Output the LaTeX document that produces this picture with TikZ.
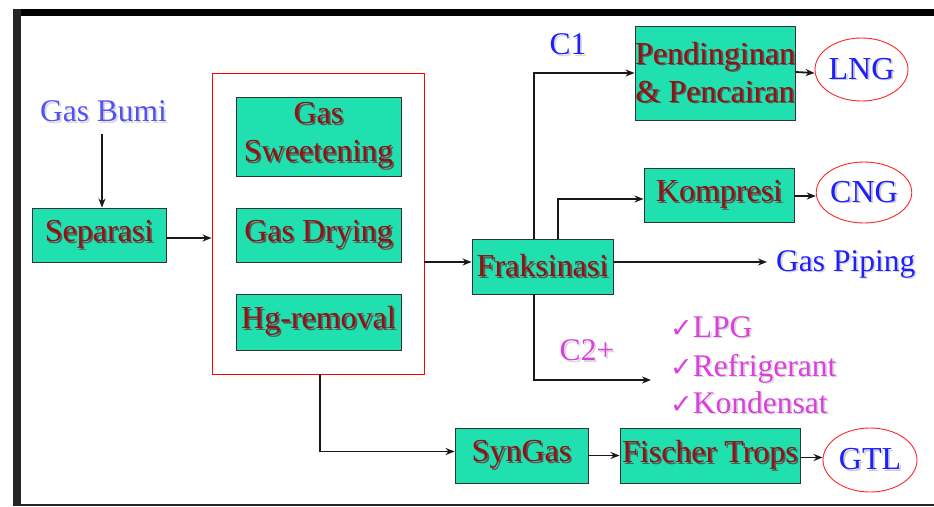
\documentclass[tikz,border=0pt]{standalone}
\usepackage{fontspec}
\setmainfont{Liberation Serif}
\newfontfamily\symfont{DejaVu Sans}
\usetikzlibrary{arrows.meta,shapes.geometric,calc}

\definecolor{boxgreen}{HTML}{1FE0AE}
\definecolor{boxtext}{HTML}{8E1414}
\definecolor{lblue}{HTML}{1E1EFF}
\definecolor{softblue}{HTML}{5252F4}
\definecolor{pinkish}{HTML}{DE3EDE}
\definecolor{framegray}{HTML}{262626}

% text with a drop shadow
\newcommand\shd[2][black!65]{\leavevmode\rlap{\hspace{1.8pt}\raisebox{-1.8pt}{\color{#1}#2}}#2}
\newcommand\tick{{\symfont\fontsize{27}{30}\selectfont ✓}}

\tikzset{
  procbox/.style={draw=black!80, line width=0.9pt, fill=boxgreen, text=boxtext,
    inner sep=0pt, align=center, font=\fontsize{32}{38}\selectfont},
  product/.style={ellipse, draw=red!85, line width=0.9pt, fill=white, text=lblue,
    inner sep=0pt, font=\fontsize{32}{34}\selectfont},
  bluelbl/.style={text=lblue, inner sep=0pt, font=\fontsize{31.5}{34}\selectfont},
  pinklbl/.style={text=pinkish, inner sep=0pt, font=\fontsize{31.5}{34}\selectfont},
  arr/.style={line width=1.8pt, draw=black!90, -{Stealth[length=9pt,width=7pt]}},
}

\begin{document}
\begin{tikzpicture}[x=1pt,y=-1pt]
\useasboundingbox (0,0) rectangle (934,506);
\fill[white] (0,0) rectangle (934,506);

% frame
\fill[black] (13,9) rectangle (934,16);
\fill[framegray] (13,9) rectangle (21,506);
\draw[framegray, line width=1.3pt] (13,505) -- (934,505);

% treatment group
\node[draw=red, line width=0.9pt, minimum width=212pt, minimum height=301pt, inner sep=0pt]
  (treat) at (318,223.5) {};

% process boxes
\node[procbox, minimum width=134pt, minimum height=54pt] (sep) at (99,235) {\shd{Separasi}};
\node[procbox, minimum width=165pt, minimum height=79pt] (sweet) at (318.5,136.5) {\shd{Gas}\\\shd{Sweetening}};
\node[procbox, minimum width=165pt, minimum height=54pt] (dry) at (318.5,235) {\shd{Gas Drying}};
\node[procbox, minimum width=165pt, minimum height=56pt] (hg) at (318.5,322) {\shd{Hg-removal}};
\node[procbox, minimum width=141pt, minimum height=55pt] (frak) at (542.5,266.5) {\shd{Fraksinasi}};
\node[procbox, minimum width=158pt, minimum height=94pt] (pend) at (715,73) {\shd{Pendinginan}\\\shd{\&~Pencairan}};
\node[procbox, minimum width=150pt, minimum height=54pt] (komp) at (719,195) {\shd{Kompresi}};
\node[procbox, minimum width=133pt, minimum height=55pt] (syn) at (521.5,455.5) {\shd{SynGas}};
\node[procbox, minimum width=180pt, minimum height=55pt] (fisch) at (710,455.5) {\shd{Fischer Trops}};

% products
\node[product, minimum width=93pt, minimum height=63pt] (lng) at (861.5,69.5) {\shd[black!20]{LNG}};
\node[product, minimum width=92pt, minimum height=61pt] (cng) at (864,192.5) {\shd[black!20]{CNG}};
\node[product, minimum width=94pt, minimum height=64pt] (gtl) at (870,460) {\shd[black!20]{GTL}};

% labels
\node[bluelbl, text=softblue] (gasbumi) at (103.5,112) {\shd[black!15]{Gas Bumi}};
\node[bluelbl] (c1) at (568,45) {\shd[black!15]{C1}};
\node[bluelbl, anchor=west] (piping) at (776,265) {\shd[black!15]{Gas Piping}};
\node[pinklbl] (c2) at (587,351) {\shd[black!15]{C2+}};
\node[pinklbl, anchor=base west] (lpg) at (670,337) {\tick\shd[black!15]{LPG}};
\node[pinklbl, anchor=base west] (refr) at (670,376) {\tick\shd[black!15]{Refrigerant}};
\node[pinklbl, anchor=base west] (kond) at (670,413) {\tick\shd[black!15]{Kondensat}};
\coordinate (c2end) at (651,380);

% connectors
\draw[arr, shorten <=10pt] (gasbumi.south -| 102,0) -- (102,0 |- sep.north);
\draw[arr] ([yshift=-3pt]sep.east) -- ([yshift=-3pt]sep.east -| treat.west);
\draw[arr] ([yshift=4.5pt]frak.west -| treat.east) -- ([yshift=4.5pt]frak.west);
\draw[arr] ([xshift=-8.5pt]frak.north) |- (pend.west);
\draw[arr] ([xshift=15.5pt]frak.north) |- ([yshift=-4pt]komp.west);
\draw[arr, shorten >=9pt] ([yshift=4.5pt]frak.east) -- ([yshift=4.5pt]frak.east -| piping.west);
\draw[arr] ([xshift=-8.5pt]frak.south) |- (c2end);
\draw[arr] ([xshift=2pt]treat.south) |- ([yshift=4pt]syn.west);
\draw[arr] ([yshift=1pt]pend.east) -- (pend.east -| lng.west);
\draw[arr] ([yshift=-1pt]komp.east) -- ([yshift=-1pt]komp.east -| cng.west);
\draw[arr] (syn.east) -- (fisch.west);
\draw[arr] ([yshift=-2pt]fisch.east) -- ([yshift=-2pt]fisch.east -| gtl.west);
\end{tikzpicture}
\end{document}
